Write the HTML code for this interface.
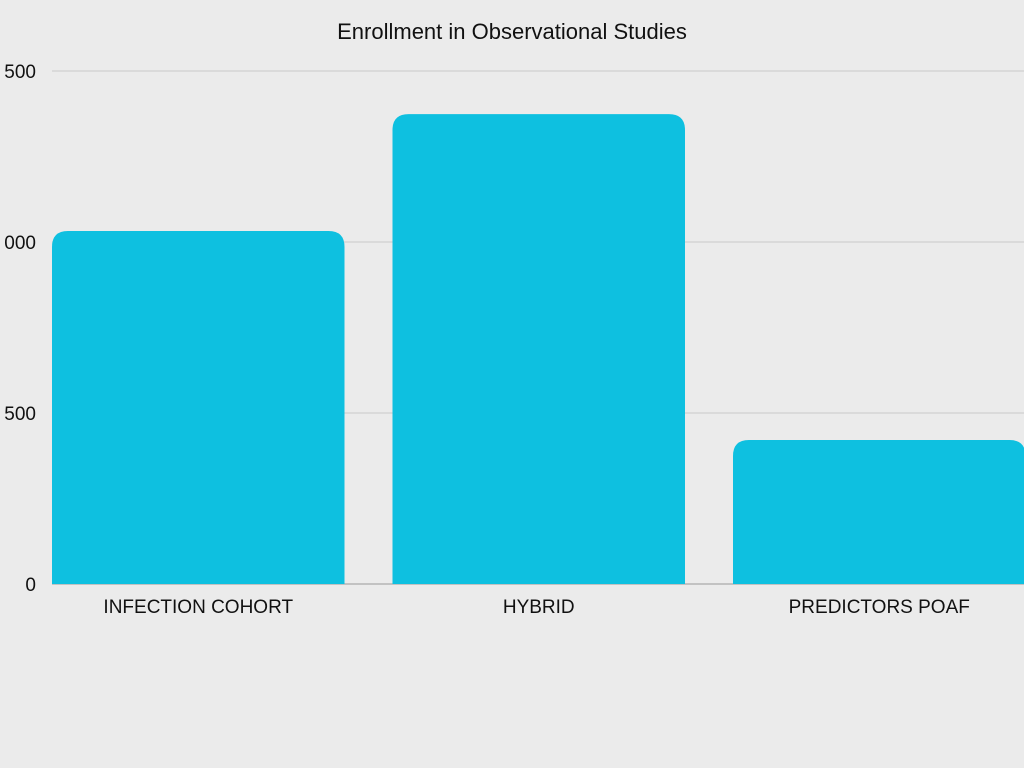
<!DOCTYPE html>
<html><head><meta charset="utf-8"><style>
html,body{margin:0;padding:0;background:#ebebeb;}
svg{display:block;font-family:"Liberation Sans",sans-serif;}
</style></head><body>
<svg id="chart" width="1024" height="768" viewBox="0 0 1024 768">
<rect width="1024" height="768" fill="#ebebeb"/>
<text x="512" y="39" text-anchor="middle" font-size="22" fill="#111">Enrollment in Observational Studies</text>
<g id="grid"></g><g id="bars"></g><g id="labels"></g>
</svg>
<script>
const categories = ["INFECTION COHORT", "HYBRID", "PREDICTORS POAF"];
const values = [1032, 1374, 421];
const ticks = [0, 500, 1000, 1500];
const tickLabels = ["0", "500", "000", "500"];

const NS = "http://www.w3.org/2000/svg";
const yMax = 1500, y0 = 584, y1 = 71;
const plotL = 28, band = 340.5, pad = 24;
function y(v){ return y0 - (v / yMax) * (y0 - y1); }
function xBand(i){ return plotL + i * band; }

const grid = document.getElementById("grid");
ticks.forEach((t, i) => {
  const ln = document.createElementNS(NS, "line");
  ln.setAttribute("x1", 52); ln.setAttribute("x2", 1024);
  ln.setAttribute("y1", y(t)); ln.setAttribute("y2", y(t));
  ln.setAttribute("stroke", t === 0 ? "#999" : "#c8c8c8");
  ln.setAttribute("stroke-width", 1);
  
  
  grid.appendChild(ln);
  const tx = document.createElementNS(NS, "text");
  tx.setAttribute("x", 36); tx.setAttribute("y", y(t) + 7);
  tx.setAttribute("text-anchor", "end");
  tx.setAttribute("font-size", "19"); tx.setAttribute("fill", "#111");
  tx.textContent = tickLabels[i];
  
  
  grid.appendChild(tx);
});

const bars = document.getElementById("bars"), labels = document.getElementById("labels");
categories.forEach((c, i) => {
  const x0 = xBand(i) + pad, w = band - 2 * pad, top = y(values[i]), r = 16;
  const p = document.createElementNS(NS, "path");
  p.setAttribute("d", `M${x0},${y0} L${x0},${top + r} Q${x0},${top} ${x0 + r},${top} L${x0 + w - r},${top} Q${x0 + w},${top} ${x0 + w},${top + r} L${x0 + w},${y0} Z`);
  p.setAttribute("fill", "#0ec0e0");
  
  
  bars.appendChild(p);
  const t = document.createElementNS(NS, "text");
  t.setAttribute("x", x0 + w / 2); t.setAttribute("y", 613);
  t.setAttribute("text-anchor", "middle");
  t.setAttribute("font-size", "19"); t.setAttribute("fill", "#111");
  t.textContent = c;
  
  
  labels.appendChild(t);
});
</script>
</body></html>
